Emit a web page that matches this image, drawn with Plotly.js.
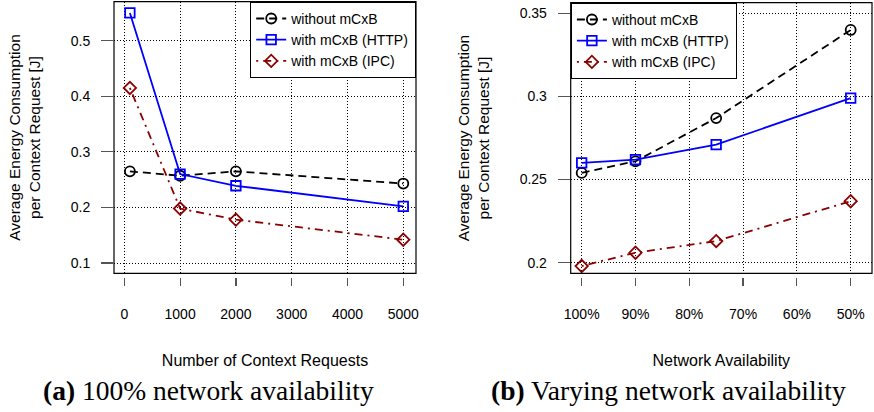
<!DOCTYPE html>
<html>
<head>
<meta charset="utf-8">
<script src="https://cdn.plot.ly/plotly-3.0.1.min.js"></script>
<style>html,body{margin:0;padding:0;background:#fff;}#chart{width:874px;height:412px;}</style>
</head>
<body>
<div id="chart"></div>
<script>
// ---- data ----
const seriesNames = ["without mCxB", "with mCxB (HTTP)", "with mCxB (IPC)"];

// (a) 100% network availability
const requestsA = [100, 1000, 2000, 5000];
const withoutA = [0.265, 0.257, 0.265, 0.243];
const httpA    = [0.550, 0.260, 0.239, 0.202];
const ipcA     = [0.415, 0.198, 0.178, 0.142];
const xTicksA  = [0, 1000, 2000, 3000, 4000, 5000];
const yTicksA  = [0.1, 0.2, 0.3, 0.4, 0.5];
const yTickTextA = ["0.1", "0.2", "0.3", "0.4", "0.5"];

// (b) Varying network availability
const availB   = [100, 90, 75, 50];
const withoutB = [0.254, 0.261, 0.287, 0.340];
const httpB    = [0.260, 0.262, 0.271, 0.299];
const ipcB     = [0.198, 0.206, 0.213, 0.237];
const xTicksB  = [100, 90, 80, 70, 60, 50];
const xTickTextB = ["100%", "90%", "80%", "70%", "60%", "50%"];
const yTicksB  = [0.2, 0.25, 0.3, 0.35];
const yTickTextB = ["0.2", "0.25", "0.3", "0.35"];

const captionA = "<b>(a)</b> 100% network availability";
const captionB = "<b>(b)</b> Varying network availability";
const xTitleA = "Number of Context Requests";
const xTitleB = "Network Availability";
const yTitle = "Average Energy Consumption<br>per Context Request [J]";

// ---- styles ----
const SANS = "Liberation Sans, Arial, Helvetica, sans-serif";
const SERIF = "Liberation Serif, Times New Roman, serif";
const styles = [
  {line: {color: "#000000", width: 1.8, dash: "8px,5px"}, marker: {symbol: "circle-open", size: 10, color: "#000000", line: {width: 1.8, color: "#000000"}}},
  {line: {color: "#0000ff", width: 1.8, dash: "solid"}, marker: {symbol: "square-open", size: 9.5, color: "#0000ff", line: {width: 1.8, color: "#0000ff"}}},
  {line: {color: "#8b0000", width: 1.8, dash: "2px,5px,8px,5px"}, marker: {symbol: "diamond-open", size: 9.5, color: "#8b0000", line: {width: 1.8, color: "#8b0000"}}}
];

function mk(x, y, i, xa, ya, leg) {
  return {
    x: x, y: y, type: "scatter", mode: "lines+markers",
    name: seriesNames[i], xaxis: xa, yaxis: ya, legend: leg,
    line: styles[i].line, marker: styles[i].marker, cliponaxis: false
  };
}

const data = [
  mk(requestsA, withoutA, 0, "x", "y", "legend"),
  mk(requestsA, httpA, 1, "x", "y", "legend"),
  mk(requestsA, ipcA, 2, "x", "y", "legend"),
  mk(availB, withoutB, 0, "x2", "y2", "legend2"),
  mk(availB, httpB, 1, "x2", "y2", "legend2"),
  mk(availB, ipcB, 2, "x2", "y2", "legend2")
];

const W = 874, H = 412;
const px = v => v / W;
const py = v => (H - v) / H;

const gridCommon = {
  showgrid: true, gridcolor: "#000000", gridwidth: 1, griddash: "1px,2px",
  zeroline: false, showline: false, ticks: "outside", tickcolor: "#555555", tickwidth: 1.2,
  tickfont: {family: SANS, size: 14, color: "#000000"}, automargin: false
};

const layout = {
  width: W, height: H,
  margin: {l: 0, r: 0, t: 0, b: 0},
  paper_bgcolor: "#ffffff", plot_bgcolor: "#ffffff",
  showlegend: true,
  xaxis: Object.assign({}, gridCommon, {
    domain: [px(114), px(416)], range: [-185, 5228],
    anchor: "free", position: py(276.5), ticklen: 8.5,
    tickmode: "array", tickvals: xTicksA, ticktext: xTicksA.map(String),
    ticklabelstandoff: 16,
    title: {text: xTitleA, font: {family: SANS, size: 16, color: "#000"}, standoff: 34}
  }),
  yaxis: Object.assign({}, gridCommon, {
    domain: [py(273.3), py(1.7)], range: [0.0815, 0.5702],
    anchor: "x", ticklen: 12,
    tickmode: "array", tickvals: yTicksA, ticktext: yTickTextA,
    ticklabelstandoff: 8,
    title: {text: yTitle, font: {family: SANS, size: 15.5, color: "#000"}, standoff: 26}
  }),
  xaxis2: Object.assign({}, gridCommon, {
    domain: [px(570.7), px(872)], range: [102.04, 46.04],
    anchor: "free", position: py(276.5), ticklen: 8.5,
    tickmode: "array", tickvals: xTicksB, ticktext: xTickTextB,
    ticklabelstandoff: 16,
    title: {text: xTitleB, font: {family: SANS, size: 16, color: "#000"}, standoff: 34}
  }),
  yaxis2: Object.assign({}, gridCommon, {
    domain: [py(273.3), py(2.7)], range: [0.19362, 0.3564],
    anchor: "x2", ticklen: 12,
    tickmode: "array", tickvals: yTicksB, ticktext: yTickTextB,
    ticklabelstandoff: 8,
    title: {text: yTitle, font: {family: SANS, size: 15.5, color: "#000"}, standoff: 26}
  }),
  legend: {
    x: px(416), xanchor: "right", y: py(1.7), yanchor: "top",
    bgcolor: "#ffffff", bordercolor: "#000000", borderwidth: 1.2,
    font: {family: SANS, size: 14, color: "#000"}, itemwidth: 30, tracegroupgap: 0
  },
  legend2: {
    x: px(570.7), xanchor: "left", y: py(2.7), yanchor: "top",
    bgcolor: "#ffffff", bordercolor: "#000000", borderwidth: 1.2,
    font: {family: SANS, size: 14, color: "#000"}, itemwidth: 30, tracegroupgap: 0
  },
  shapes: [
    {type: "rect", xref: "x domain", yref: "y domain", x0: 0, x1: 1, y0: 0, y1: 1, line: {color: "#000", width: 1.2}, layer: "above"},
    {type: "rect", xref: "x2 domain", yref: "y2 domain", x0: 0, x1: 1, y0: 0, y1: 1, line: {color: "#000", width: 1.2}, layer: "above"}
  ],
  annotations: [
    {text: captionA, xref: "paper", yref: "paper", x: px(208), y: py(390), xanchor: "center", yanchor: "middle", showarrow: false, font: {family: SERIF, size: 27.5, color: "#000"}},
    {text: captionB, xref: "paper", yref: "paper", x: px(668.5), y: py(390), xanchor: "center", yanchor: "middle", showarrow: false, font: {family: SERIF, size: 27.5, color: "#000"}}
  ]
};

Plotly.newPlot("chart", data, layout, {staticPlot: true, displayModeBar: false});
</script>
</body>
</html>
